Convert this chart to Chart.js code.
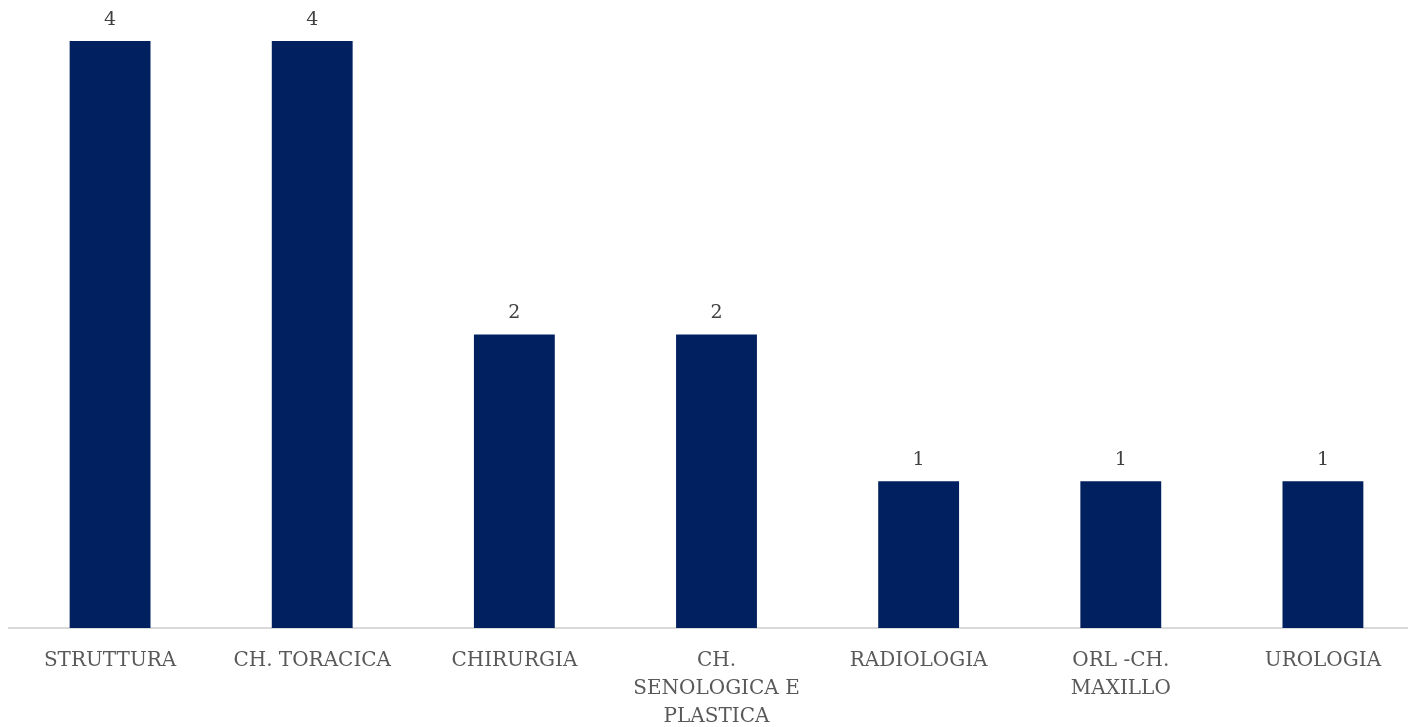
<!DOCTYPE html>
<html>
<head>
<meta charset="utf-8">
<script src="https://cdn.jsdelivr.net/npm/chart.js@4/dist/chart.umd.min.js"></script>
<style>
  html, body { margin: 0; padding: 0; background: #fff; overflow: hidden; }
  #wrap { position: relative; width: 1424px; height: 727px; }
</style>
</head>
<body>
<div id="wrap"><canvas id="reparti"></canvas></div>
<script>
const categories = [
  'STRUTTURA',
  'CH. TORACICA',
  'CHIRURGIA',
  ['CH.', 'SENOLOGICA E', 'PLASTICA'],
  'RADIOLOGIA',
  ['ORL -CH.', 'MAXILLO'],
  'UROLOGIA'
];
const counts = [4, 4, 2, 2, 1, 1, 1];

const FONT = '"DejaVu Serif", serif';

// value above each bar
const valueLabels = {
  id: 'valueLabels',
  afterDatasetsDraw(chart) {
    const ctx = chart.ctx;
    const meta = chart.getDatasetMeta(0);
    ctx.save();
    ctx.font = '19px ' + FONT;
    ctx.fillStyle = '#404040';
    ctx.textAlign = 'center';
    ctx.textBaseline = 'middle';
    meta.data.forEach(function(bar, i) {
      ctx.fillText(String(counts[i]), bar.x, bar.y - 21);
    });
    ctx.restore();
  }
};

document.addEventListener('DOMContentLoaded', function() {
  const ctx = document.getElementById('reparti').getContext('2d');
  new Chart(ctx, {
    type: 'bar',
    data: {
      labels: categories,
      datasets: [{
        data: counts,
        backgroundColor: '#002060',
        borderWidth: 0,
        barPercentage: 0.4,
        categoryPercentage: 1
      }]
    },
    options: {
      responsive: true,
      maintainAspectRatio: false,
      animation: false,
      layout: { padding: { left: 9, top: 41, right: 0, bottom: 0 } },
      scales: {
        y: {
          display: false,
          min: 0,
          max: 4
        },
        x: {
          grid: { display: false },
          border: { display: true, color: '#d9d9d9', width: 2 },
          ticks: {
            color: '#595959',
            font: { family: FONT, size: 20, lineHeight: 1.4 },
            padding: 11,
            maxRotation: 0,
            autoSkip: false
          },
          afterFit: function(scale) {
            scale.height = 99;
          }
        }
      },
      plugins: {
        legend: { display: false },
        tooltip: { enabled: false }
      }
    },
    plugins: [valueLabels]
  });
});
</script>
</body>
</html>
